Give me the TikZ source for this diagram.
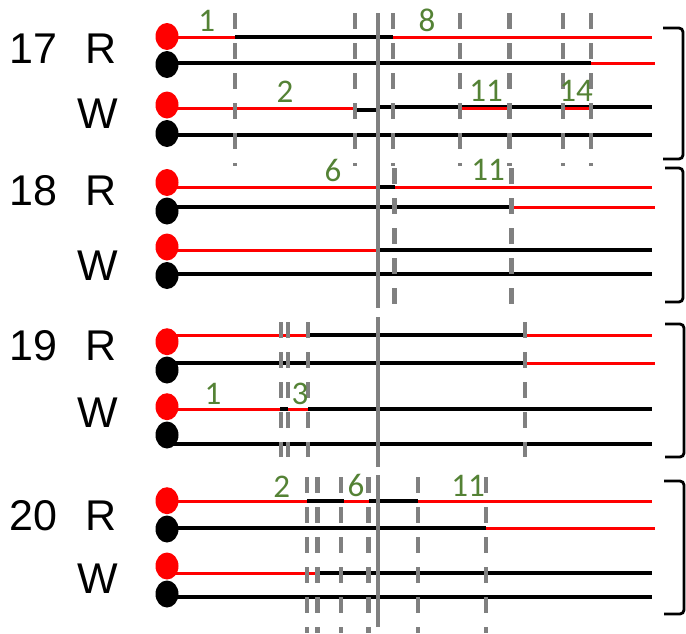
\documentclass[tikz,border=0pt]{standalone}
\usepackage{fontspec}
\setmainfont{Liberation Sans}
\newfontfamily\greenfont{Carlito}
\usetikzlibrary{shapes.geometric}
\definecolor{lblgreen}{RGB}{84,130,53}
\definecolor{dashgray}{RGB}{128,128,128}
\definecolor{sigred}{RGB}{255,0,0}
\tikzset{
  dotR/.style={ellipse,fill=sigred,minimum width=23pt,minimum height=27pt,inner sep=0pt},
  dotK/.style={ellipse,fill=black,minimum width=23pt,minimum height=27pt,inner sep=0pt},
  redln/.style={draw=sigred,line width=3pt},
  blkln/.style={draw=black,line width=3.2pt},
  blkover/.style={draw=black,line width=3.6pt},
  vdash/.style={draw=dashgray,line width=4.4pt,dash pattern=on 16pt off 14pt},
  vsolid/.style={draw=dashgray,line width=4.2pt},
  brk/.style={draw=black,line width=2.8pt,rounded corners=4pt},
  bigtxt/.style={font=\fontsize{43}{43}\selectfont,inner sep=0pt,anchor=base west},
  numtxt/.style={font=\greenfont\fontsize{33}{33}\selectfont,text=lblgreen,inner sep=0pt,anchor=base},
}
\newcommand\mySeg[4]{\draw[#1] (#3,#2) -- (#4,#2);}
\newcommand\myDash[3]{\draw[vdash] (#1,#2) -- (#1,#3);}
\begin{document}
\begin{tikzpicture}[x=1pt,y=-1pt]
\useasboundingbox (0,0) rectangle (686,633);

% ---------- labels left ----------
\node[bigtxt] (t17) at (9,63) {17};
\node[bigtxt] (r17) at (85,63) {R};
\node[bigtxt] (w17) at (77.5,128) {W};
\node[bigtxt] (t18) at (9,205) {18};
\node[bigtxt] (r18) at (85,205) {R};
\node[bigtxt] (w18) at (77.5,280) {W};
\node[bigtxt] (t19) at (9,360) {19};
\node[bigtxt] (r19) at (85,360) {R};
\node[bigtxt] (w19) at (77.5,427) {W};
\node[bigtxt] (t20) at (9,530) {20};
\node[bigtxt] (r20) at (85,530) {R};
\node[bigtxt] (w20) at (77.5,593) {W};

% ---------- block 17 lines ----------
\mySeg{redln}{37}{167}{652}
\mySeg{blkover}{37}{235}{393}
\mySeg{blkln}{63}{167}{591}
\mySeg{redln}{63}{591}{655}
\mySeg{redln}{108}{167}{355}
\mySeg{blkln}{110}{355}{378}
\mySeg{blkln}{107}{378}{652}
\mySeg{redln}{108}{460}{509}
\mySeg{blkover}{108}{565}{589}
\mySeg{redln}{108}{565}{589}
\mySeg{blkln}{135}{167}{652}

% ---------- block 18 lines ----------
\mySeg{redln}{187}{167}{652}
\mySeg{blkover}{187}{380}{395}
\mySeg{blkln}{207}{167}{511}
\mySeg{redln}{207}{511}{655}
\mySeg{redln}{250}{167}{378}
\mySeg{blkln}{250}{378}{652}
\mySeg{blkln}{274}{167}{652}

% ---------- block 19 lines ----------
\mySeg{redln}{335}{167}{652}
\mySeg{blkover}{335}{308}{525}
\mySeg{blkln}{363}{167}{525}
\mySeg{redln}{363}{525}{655}
\mySeg{redln}{409}{167}{378}
\mySeg{blkover}{409}{280}{288}
\mySeg{blkover}{409}{308}{652}
\mySeg{blkln}{444}{167}{652}

% ---------- block 20 lines ----------
\mySeg{redln}{501}{167}{652}
\mySeg{blkover}{501}{307}{344}
\mySeg{blkover}{501}{369}{418}
\mySeg{blkln}{528}{167}{486}
\mySeg{redln}{528}{486}{655}
\mySeg{redln}{573}{167}{316}
\mySeg{blkln}{573}{316}{652}
\mySeg{blkln}{597}{167}{652}

% ---------- dots ----------
\node[dotR] (d17a) at (167,36.5) {};
\node[dotK] (d17b) at (167,64.5) {};
\node[dotR] (d17c) at (167,105) {};
\node[dotK] (d17d) at (167,133.5) {};
\node[dotR] (d18a) at (167,182.5) {};
\node[dotK] (d18b) at (167,211) {};
\node[dotR] (d18c) at (167,247) {};
\node[dotK] (d18d) at (167,275.5) {};
\node[dotR] (d19a) at (167,341.7) {};
\node[dotK] (d19b) at (167,370) {};
\node[dotR] (d19c) at (167,406.7) {};
\node[dotK] (d19d) at (167,435) {};
\node[dotR] (d20a) at (167,500.7) {};
\node[dotK] (d20b) at (167,529) {};
\node[dotR] (d20c) at (167,566) {};
\node[dotK] (d20d) at (167,594) {};

% ---------- vertical dashed lines ----------
\myDash{235}{13}{166}
\myDash{355}{13}{166}
\myDash{393}{13}{166}
\myDash{460}{13}{166}
\myDash{509.5}{13}{166}
\myDash{563}{13}{166}
\myDash{591}{13}{166}
\myDash{394.5}{168}{305}
\myDash{511.5}{168}{305}
\myDash{281}{322}{457}
\myDash{288}{322}{457}
\myDash{308}{322}{457}
\myDash{525}{322}{457}
\myDash{307}{477}{633}
\myDash{317.5}{477}{633}
\myDash{341}{477}{633}
\myDash{368.5}{477}{633}
\myDash{418}{477}{633}
\myDash{486}{477}{633}

% ---------- solid vertical ----------
\draw[vsolid] (378.3,13) -- (378.3,308);
\draw[vsolid] (378.3,317) -- (378.3,467);
\draw[vsolid] (378.3,475) -- (378.3,627);

% ---------- brackets ----------
\draw[brk] (663,28) -- (683,28) -- (683,159) -- (663,159);
\draw[brk] (665,168) -- (683,168) -- (683,302) -- (665,302);
\draw[brk] (665,324) -- (684,324) -- (684,457) -- (665,457);
\draw[brk] (664,481) -- (684,481) -- (684,614) -- (664,614);

% ---------- green numbers ----------
\node[numtxt] (n1) at (206.7,31.7) {1};
\node[numtxt] (n2) at (285,102.7) {2};
\node[numtxt] (n8) at (427,31.7) {8};
\node[numtxt] (n11a) at (486,101.7) {11};
\node[numtxt] (n14) at (576,101.7) {14};
\node[numtxt] (n6a) at (333,181.7) {6};
\node[numtxt] (n11b) at (488,180) {11};
\node[numtxt] (n1b) at (213,404) {1};
\node[numtxt] (n3) at (300,404) {3};
\node[numtxt] (n2b) at (281.7,497) {2};
\node[numtxt] (n6b) at (356,496) {6};
\node[numtxt] (n11c) at (468,496) {11};
\end{tikzpicture}
\end{document}
